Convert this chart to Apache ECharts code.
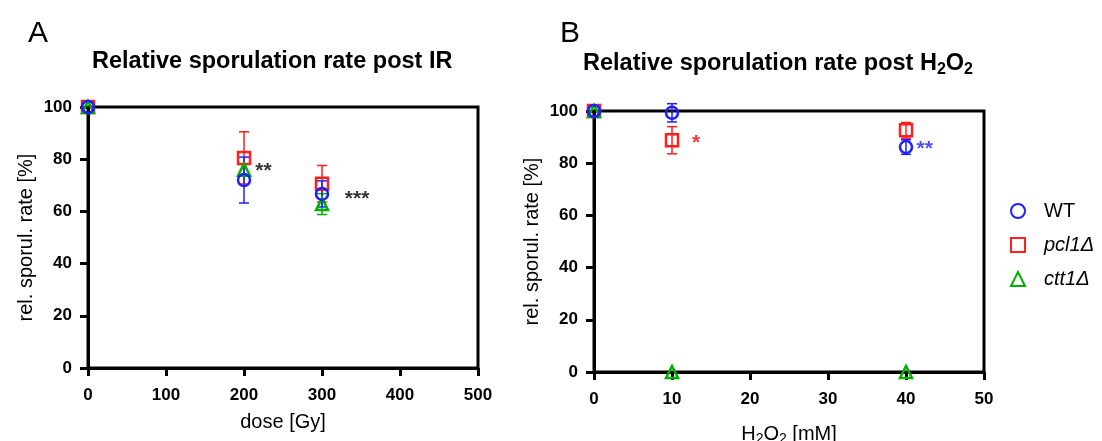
<!DOCTYPE html>
<html>
<head>
<meta charset="utf-8">
<script src="https://cdn.jsdelivr.net/npm/echarts@6/dist/echarts.min.js"></script>
<style>
  html, body { margin: 0; padding: 0; background: #fff; }
  #plot { width: 1102px; height: 441px; }
</style>
</head>
<body>
<div id="plot"></div>
<script>
// panel A: dose [Gy]
var doseA = [0, 200, 300];
var wtA = [100, 72, 66.7];
var wtAErr = [0, 8.8, 5];
var pclA = [100, 80.5, 70.6];
var pclAErr = [0, 10, 7];
var cttA = [100, 76, 62.8];
var cttAErr = [0, 2, 4];

// panel B: H2O2 [mM]
var doseB = [0, 10, 40];
var wtB = [100, 99.3, 86.2];
var wtBErr = [0, 3.5, 2.8];
var pclB = [100, 88.8, 92.6];
var pclBErr = [0, 5.2, 3];
var cttB = [100, 0, 0];
var cttBErr = [0, 0, 0];

// significance stars
var starsA = [[225, 75.5, '**', '#000'], [345, 64.5, '***', '#000']];
var starsB = [[13.1, 87.5, '*', '#ff0000'], [42.4, 85.4, '**', '#1f1fff']];

var BLUE = '#1f1fff', RED = '#ff1f1f', GREEN = '#00b000';
var FONT = 'Liberation Sans';

var myChart = echarts.init(document.getElementById('plot'));

function pts(xs, ys) {
  return xs.map(function (x, i) { return [x, ys[i]]; });
}
function errs(xs, ys, es) {
  return xs.map(function (x, i) { return [x, ys[i] - es[i], ys[i] + es[i]]; });
}

function renderErr(params, api) {
  var x = api.value(0), lo = api.value(1), hi = api.value(2);
  if (hi === lo) return null;
  var top = api.coord([x, hi]);
  var bot = api.coord([x, lo]);
  var w = 5;
  var style = { stroke: api.visual('color'), lineWidth: 1.5 };
  return {
    type: 'group',
    children: [
      { type: 'line', shape: { x1: top[0], y1: top[1], x2: bot[0], y2: bot[1] }, style: style },
      { type: 'line', shape: { x1: top[0] - w, y1: top[1], x2: top[0] + w, y2: top[1] }, style: style },
      { type: 'line', shape: { x1: bot[0] - w, y1: bot[1], x2: bot[0] + w, y2: bot[1] }, style: style }
    ]
  };
}

function errSeries(idx, data, color) {
  return {
    type: 'custom', xAxisIndex: idx, yAxisIndex: idx,
    renderItem: renderErr, data: data, clip: false,
    itemStyle: { color: color }, silent: true, z: 2
  };
}

function pointSeries(idx, name, data, color, symbol, size) {
  return {
    type: 'scatter', name: name, xAxisIndex: idx, yAxisIndex: idx,
    data: data, symbol: symbol, symbolSize: size, clip: false,
    itemStyle: { color: 'rgba(255,255,255,0)', borderColor: color, borderWidth: 2.5, opacity: 1 },
    z: 3
  };
}

function starSeries(idx, data) {
  return {
    type: 'scatter', xAxisIndex: idx, yAxisIndex: idx, symbolSize: 0, silent: true,
    data: data.map(function (d) {
      return { value: [d[0], d[1]], label: { color: d[3] }, name: d[2] };
    }),
    label: {
      show: true, position: 'inside', formatter: '{b}',
      fontSize: 21, fontWeight: 'bold', fontFamily: FONT
    },
    clip: false
  };
}

var axisCommon = {
  axisLine: { lineStyle: { color: '#000', width: 3 } },
  axisTick: { show: true, length: 8, lineStyle: { color: '#000', width: 3 } },
  axisLabel: { color: '#000', fontSize: 17, fontWeight: 'bold', fontFamily: FONT },
  splitLine: { show: false },
  nameTextStyle: { color: '#000', fontSize: 20, fontFamily: FONT }
};

function xAx(idx, max, interval, name, gap, rich) {
  return Object.assign({}, axisCommon, {
    type: 'value', gridIndex: idx, min: 0, max: max, interval: interval,
    name: name, nameLocation: 'middle', nameGap: gap,
    axisLabel: Object.assign({}, axisCommon.axisLabel, { margin: 19 }),
    nameTextStyle: Object.assign({}, axisCommon.nameTextStyle, { rich: rich || {} })
  });
}
function yAx(idx) {
  return Object.assign({}, axisCommon, {
    type: 'value', gridIndex: idx, min: 0, max: 100, interval: 20,
    name: 'rel. sporul. rate [%]', nameLocation: 'middle', nameGap: 52,
    axisLabel: Object.assign({}, axisCommon.axisLabel, { margin: 16 })
  });
}

var subRich = {
  s: { fontSize: 14, padding: [9, 0, 0, 0], fontFamily: FONT }
};

var option = {
  animation: false,
  title: [
    { text: 'A', left: 23, top: 14, textStyle: { fontSize: 30, fontWeight: 'normal', color: '#000', fontFamily: FONT } },
    { text: 'B', left: 555, top: 14, textStyle: { fontSize: 30, fontWeight: 'normal', color: '#000', fontFamily: FONT } },
    { text: 'Relative sporulation rate post IR', left: 87, top: 45,
      textStyle: { fontSize: 23.5, fontWeight: 'bold', color: '#000', fontFamily: FONT } },
    { text: 'Relative sporulation rate post H{s|2}O{s|2}', left: 578, top: 45,
      textStyle: { fontSize: 23.5, fontWeight: 'bold', color: '#000', fontFamily: FONT,
        rich: { s: { fontSize: 16, fontWeight: 'bold', padding: [12, 0, 0, 0], fontFamily: FONT } } } }
  ],
  grid: [
    { left: 88, top: 107, width: 390, height: 261, outerBoundsMode: 'none', containLabel: false,
      show: true, borderColor: '#000', borderWidth: 3, backgroundColor: 'transparent' },
    { left: 594, top: 111, width: 390, height: 261, outerBoundsMode: 'none', containLabel: false,
      show: true, borderColor: '#000', borderWidth: 3, backgroundColor: 'transparent' }
  ],
  xAxis: [
    xAx(0, 500, 100, 'dose [Gy]', 44),
    xAx(1, 50, 10, 'H{s|2}O{s|2} [mM]', 51, subRich)
  ],
  yAxis: [yAx(0), yAx(1)],
  legend: {
    orient: 'vertical', left: 1005, top: 196, itemGap: 14, itemWidth: 14, itemHeight: 14,
    data: ['WT', 'pcl1Δ', 'ctt1Δ'],
    textStyle: { fontSize: 20, color: '#000', fontFamily: FONT, padding: [0, 0, 0, 14],
      rich: { i: { fontStyle: 'italic', fontSize: 20, fontFamily: FONT } } },
    formatter: function (name) {
      if (name === 'WT') return name;
      return '{i|' + name.replace('Δ', '') + '}{i|Δ}';
    }
  },
  series: [
    errSeries(0, errs(doseA, pclA, pclAErr), RED),
    errSeries(0, errs(doseA, cttA, cttAErr), GREEN),
    errSeries(0, errs(doseA, wtA, wtAErr), BLUE),
    pointSeries(0, 'pcl1Δ', pts(doseA, pclA), RED, 'rect', 12),
    pointSeries(0, 'ctt1Δ', pts(doseA, cttA), GREEN, 'triangle', 12),
    pointSeries(0, 'WT', pts(doseA, wtA), BLUE, 'circle', 12),
    starSeries(0, starsA),
    errSeries(1, errs(doseB, pclB, pclBErr), RED),
    errSeries(1, errs(doseB, cttB, cttBErr), GREEN),
    errSeries(1, errs(doseB, wtB, wtBErr), BLUE),
    pointSeries(1, 'pcl1Δ', pts(doseB, pclB), RED, 'rect', 12),
    pointSeries(1, 'ctt1Δ', pts(doseB, cttB), GREEN, 'triangle', 12),
    pointSeries(1, 'WT', pts(doseB, wtB), BLUE, 'circle', 12),
    starSeries(1, starsB)
  ]
};

myChart.setOption(option);
</script>
</body>
</html>
